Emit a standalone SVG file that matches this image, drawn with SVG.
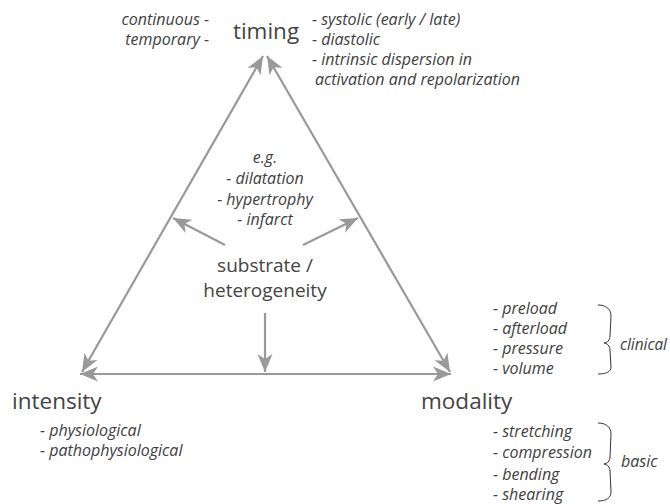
<svg xmlns="http://www.w3.org/2000/svg" width="670" height="504" viewBox="0 0 670 504">
<style>
.big{font-family:"Open Sans","Noto Sans",sans-serif;font-size:22.5px;fill:#444}
.mid{font-family:"Open Sans","Noto Sans",sans-serif;font-size:19px;fill:#444}
.it{font-family:"Open Sans","Noto Sans",sans-serif;font-size:16px;font-style:italic;fill:#404040}
.ln{stroke:#999;stroke-width:2.2;fill:none}
.br{stroke:#333;stroke-width:1;fill:none}
</style>
<defs>
<marker id="ah" markerUnits="userSpaceOnUse" markerWidth="22" markerHeight="18" refX="18" refY="8" orient="auto-start-reverse">
<path d="M0,0.5 L18,8 L0,15.5 L5,8 Z" fill="#999"/>
</marker>
</defs>
<g id="connectors">
<line class="ln" x1="263" y1="56" x2="82" y2="372" marker-start="url(#ah)" marker-end="url(#ah)"/>
<line class="ln" x1="267" y1="56" x2="450" y2="372" marker-start="url(#ah)" marker-end="url(#ah)"/>
<line class="ln" x1="80" y1="374" x2="451" y2="374" marker-start="url(#ah)" marker-end="url(#ah)"/>
<line class="ln" x1="265" y1="313" x2="265" y2="372" marker-end="url(#ah)"/>
<line class="ln" x1="225" y1="245" x2="173" y2="218" marker-end="url(#ah)"/>
<line class="ln" x1="303" y1="245" x2="358" y2="218" marker-end="url(#ah)"/>
</g>
<g id="timing">
<text class="big" x="266" y="39" text-anchor="middle">timing</text>
<text class="it" x="209" y="25" text-anchor="end">continuous -</text>
<text class="it" x="209" y="45" text-anchor="end">temporary -</text>
<text class="it" x="312" y="25">- systolic (early / late)</text>
<text class="it" x="312" y="45">- diastolic</text>
<text class="it" x="312" y="65">- intrinsic dispersion in</text>
<text class="it" x="315" y="85">activation and repolarization</text>
</g>
<g id="substrate">
<text class="it" x="265" y="163" text-anchor="middle">e.g.</text>
<text class="it" x="265" y="184" text-anchor="middle">- dilatation</text>
<text class="it" x="265" y="205" text-anchor="middle">- hypertrophy</text>
<text class="it" x="265" y="225" text-anchor="middle">- infarct</text>
<text class="mid" x="265" y="272" text-anchor="middle">substrate /</text>
<text class="mid" x="265" y="297" text-anchor="middle">heterogeneity</text>
</g>
<g id="intensity">
<text class="big" x="12" y="409">intensity</text>
<text class="it" x="40" y="436">- physiological</text>
<text class="it" x="40" y="456">- pathophysiological</text>
</g>
<g id="modality">
<text class="big" x="421" y="409">modality</text>
<text class="it" x="493" y="314">- preload</text>
<text class="it" x="493" y="334">- afterload</text>
<text class="it" x="493" y="354">- pressure</text>
<text class="it" x="493" y="374">- volume</text>
<path class="br" d="M598,305 C606,305 611,309 611,316 L610,336 C610,340 607,343 604,343 C607,343 610,346 610,350 L611,367 C611,372 606,374 598,374"/>
<text class="it" x="620" y="350" textLength="47" lengthAdjust="spacingAndGlyphs">clinical</text>
<text class="it" x="493" y="437">- stretching</text>
<text class="it" x="493" y="458">- compression</text>
<text class="it" x="493" y="480">- bending</text>
<text class="it" x="493" y="500">- shearing</text>
<path class="br" d="M598,423 C606,423 611,427 611,434 L610,457 C610,461 607,464 604,464 C607,464 610,467 610,471 L611,492 C611,498 606,501 598,501"/>
<text class="it" x="621" y="467">basic</text>
</g>
</svg>
